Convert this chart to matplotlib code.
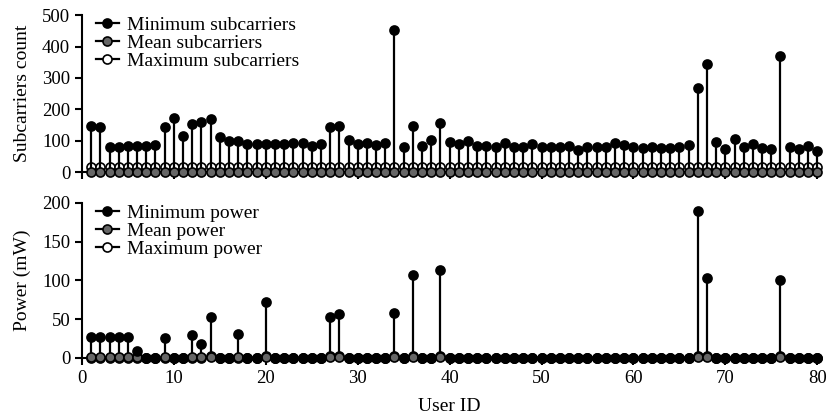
import numpy as np
import matplotlib
matplotlib.use("Agg")
import matplotlib.pyplot as plt

plt.rcParams["font.family"] = ["Liberation Serif", "DejaVu Serif"]
plt.rcParams["font.size"] = 14

user_id = np.arange(1, 81)

# subcarriers per user
sub_min = [147, 143, 81, 81, 83, 83, 83, 87, 145, 171,
           115, 154, 160, 169, 112, 99, 99, 91, 89, 89,
           89, 89, 94, 93, 84, 91, 143, 147, 101, 89,
           92, 87, 93, 454, 80, 147, 83, 103, 158, 97,
           89, 99, 83, 83, 81, 92, 80, 80, 90, 79,
           79, 79, 82, 71, 81, 79, 79, 92, 86, 81,
           77, 80, 77, 77, 81, 87, 268, 343, 96, 74,
           107, 80, 91, 77, 73, 369, 79, 74, 83, 69]
sub_mean = [1] * 80
sub_max = [15] * 80

# power per user (mW)
pow_min = [27.5, 27.5, 27.5, 27.5, 27.5, 9, 0, 0, 26, 0,
           0, 29, 17.5, 52.5, 0, 0, 30.5, 0, 0, 72,
           0, 0, 0, 0, 0, 0, 53, 56, 0, 0,
           0, 0, 0, 58, 0, 106.5, 0, 0, 113, 0,
           0, 0, 0, 0, 0, 0, 0, 0, 0, 0,
           0, 0, 0, 0, 0, 0, 0, 0, 0, 0,
           0, 0, 0, 0, 0, 0, 189, 103.5, 0, 0,
           0, 0, 0, 0, 0, 100, 0, 0, 0, 0]
pow_mean = [1 if v > 0 else 0 for v in pow_min]
pow_max = [3 if v > 50 else 0 for v in pow_min]


def draw_stems(ax, values, labels):
    faces = ["black", "#666666", "white"]
    mz = [3.3, 3.2, 3.0]     # marker zorder: min on top
    lz = [3.1, 2.5, 2.5]     # min stem passes over white markers
    handles = [None, None, None]
    for i in [2, 1, 0]:
        ml, sl, bl = ax.stem(user_id, values[i], basefmt=" ")
        plt.setp(sl, color="black", linewidth=1.6, zorder=lz[i])
        plt.setp(ml, marker="o", markersize=6.5, markerfacecolor=faces[i],
                 markeredgecolor="black", markeredgewidth=1.2, clip_on=False,
                 zorder=mz[i])
        sl.set_clip_on(False)
        handles[i] = plt.Line2D([], [], color="black", linewidth=1.6, marker="o",
                                markersize=6.5, markerfacecolor=faces[i],
                                markeredgecolor="black", markeredgewidth=1.2)
    ax.legend(handles, labels, loc="upper left", bbox_to_anchor=(0.0, 1.08),
              frameon=False, handlelength=1.2, handletextpad=0.4,
              labelspacing=0.02, borderaxespad=0.3)


fig = plt.figure(figsize=(8.28, 4.2), dpi=100)
ax1 = fig.add_axes([0.099, 0.590, 0.888, 0.374])
ax2 = fig.add_axes([0.099, 0.148, 0.888, 0.369])

draw_stems(ax1, [sub_min, sub_mean, sub_max],
           ["Minimum subcarriers", "Mean subcarriers", "Maximum subcarriers"])
draw_stems(ax2, [pow_min, pow_mean, pow_max],
           ["Minimum power", "Mean power", "Maximum power"])

ax1.set_ylim(0, 500)
ax1.set_yticks([0, 100, 200, 300, 400, 500])
ax1.set_ylabel("Subcarriers count")

ax2.set_ylim(0, 200)
ax2.set_yticks([0, 50, 100, 150, 200])
ax2.set_ylabel("Power (mW)")
ax2.set_xlabel("User ID", labelpad=8)

for ax in (ax1, ax2):
    ax.set_xlim(0, 80)
    ax.set_xticks(range(0, 81, 10))
    if ax is ax1:
        ax.set_xticklabels([])
    ax.spines["top"].set_visible(False)
    ax.spines["right"].set_visible(False)
    ax.spines["left"].set_linewidth(1.5)
    ax.spines["bottom"].set_linewidth(1.5)
    ax.tick_params(direction="out", length=5, width=1.5, labelsize=13.5)
    ax.yaxis.set_label_coords(-0.07, 0.5)

fig.savefig("out.png", dpi=100)
